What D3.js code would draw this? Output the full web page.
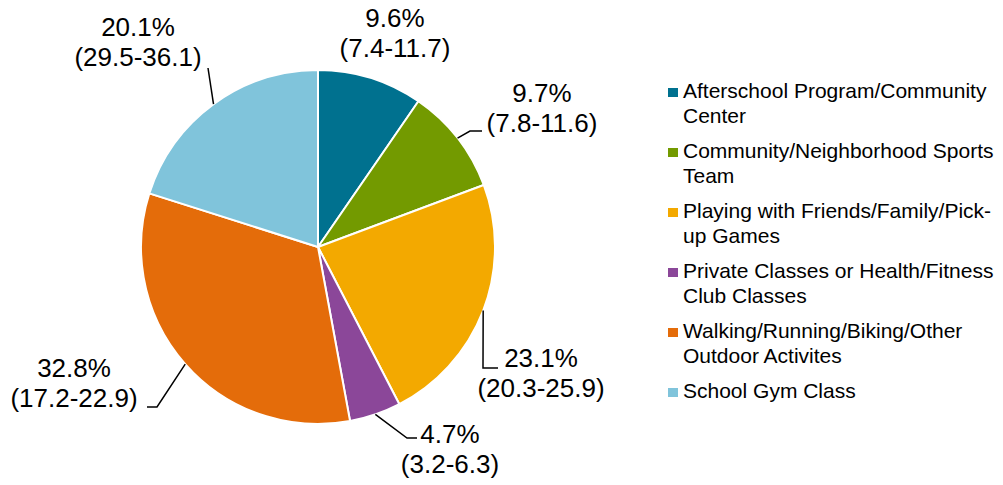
<!DOCTYPE html>
<html>
<head>
<meta charset="utf-8">
<script src="https://cdn.jsdelivr.net/npm/d3@7"></script>
<style>
  html, body { margin: 0; padding: 0; background: #fff; }
  svg { display: block; font-family: "Liberation Sans", Arial, sans-serif; }
</style>
</head>
<body>
<svg id="chart" width="1003" height="485"></svg>
<script>
// ---- data ----
const categories = [
  "Afterschool Program/Community Center",
  "Community/Neighborhood Sports Team",
  "Playing with Friends/Family/Pick-up Games",
  "Private Classes or Health/Fitness Club Classes",
  "Walking/Running/Biking/Other Outdoor Activites",
  "School Gym Class"
];
const values = [9.6, 9.7, 23.1, 4.7, 32.8, 20.1];
const intervals = ["(7.4-11.7)", "(7.8-11.6)", "(20.3-25.9)", "(3.2-6.3)", "(17.2-22.9)", "(29.5-36.1)"];
const colors = ["#00718F", "#739A00", "#F3A900", "#8B4799", "#E46C0A", "#80C4DB"];

// ---- label layout (text anchor + leader elbow, in px) ----
const labelLayout = [
  { tx: 395, ty: 27, path: [] },
  { tx: 542, ty: 102, path: [[470, 131], [482, 131]] },
  { tx: 541, ty: 367, path: [[483, 368], [498, 368]] },
  { tx: 450, ty: 443, path: [[407, 438], [417, 438]] },
  { tx: 74,  ty: 377, path: [[157, 407], [147, 407]] },
  { tx: 138, ty: 36,  path: [[208, 68]] }
];

const svg = d3.select("#chart");
const cx = 318, cy = 247, R = 177;

const pie = d3.pie().sort(null).value(d => d)(values);
const arc = d3.arc().innerRadius(0).outerRadius(R);

const g = svg.append("g").attr("transform", `translate(${cx},${cy})`);
g.selectAll("path.slice")
  .data(pie)
  .join("path")
  .attr("class", "slice")
  .attr("d", arc)
  .attr("fill", (d, i) => colors[i])
  .attr("stroke", "#fff")
  .attr("stroke-width", 2)
  .attr("stroke-linejoin", "round");

// leader lines
const line = d3.line();
pie.forEach((d, i) => {
  const lay = labelLayout[i];
  if (!lay.path.length) return;
  const mid = (d.startAngle + d.endAngle) / 2;
  const start = [cx + R * Math.sin(mid), cy - R * Math.cos(mid)];
  svg.append("path")
    .attr("d", line([start, ...lay.path]))
    .attr("fill", "none")
    .attr("stroke", "#000")
    .attr("stroke-width", 1.5);
});

// labels
pie.forEach((d, i) => {
  const lay = labelLayout[i];
  const t = svg.append("text")
    .attr("text-anchor", "middle")
    .attr("font-size", 26)
    .attr("fill", "#000");
  t.append("tspan").attr("x", lay.tx).attr("y", lay.ty).text(values[i].toFixed(1) + "%");
  t.append("tspan").attr("x", lay.tx).attr("y", lay.ty + 30).text(intervals[i]);
});

// legend
const legX = 668, legTextX = 683, legY0 = 98, itemStep = 60, lineH = 25, maxW = 320;
categories.forEach((name, i) => {
  const y = legY0 + i * itemStep;
  svg.append("rect")
    .attr("x", legX).attr("y", y - 10)
    .attr("width", 10).attr("height", 9)
    .attr("fill", colors[i]);
  const t = svg.append("text")
    .attr("font-size", 21)
    .attr("fill", "#000");
  // tokens: split after spaces and after hyphens
  const tokens = name.match(/[^\s-]+-?|\s+/g);
  let lines = [""];
  const probe = t.append("tspan").attr("x", legTextX).attr("y", y);
  tokens.forEach(tok => {
    const cur = lines[lines.length - 1];
    const trial = cur + tok;
    probe.text(trial.trimEnd());
    if (probe.node().getComputedTextLength() > maxW && cur.trim().length) {
      lines[lines.length - 1] = cur.trimEnd();
      lines.push(tok.trim() ? tok : "");
    } else {
      lines[lines.length - 1] = trial;
    }
  });
  probe.remove();
  lines.forEach((ln, j) => {
    t.append("tspan").attr("x", legTextX).attr("y", y + j * lineH).text(ln.trim());
  });
});
</script>
</body>
</html>
